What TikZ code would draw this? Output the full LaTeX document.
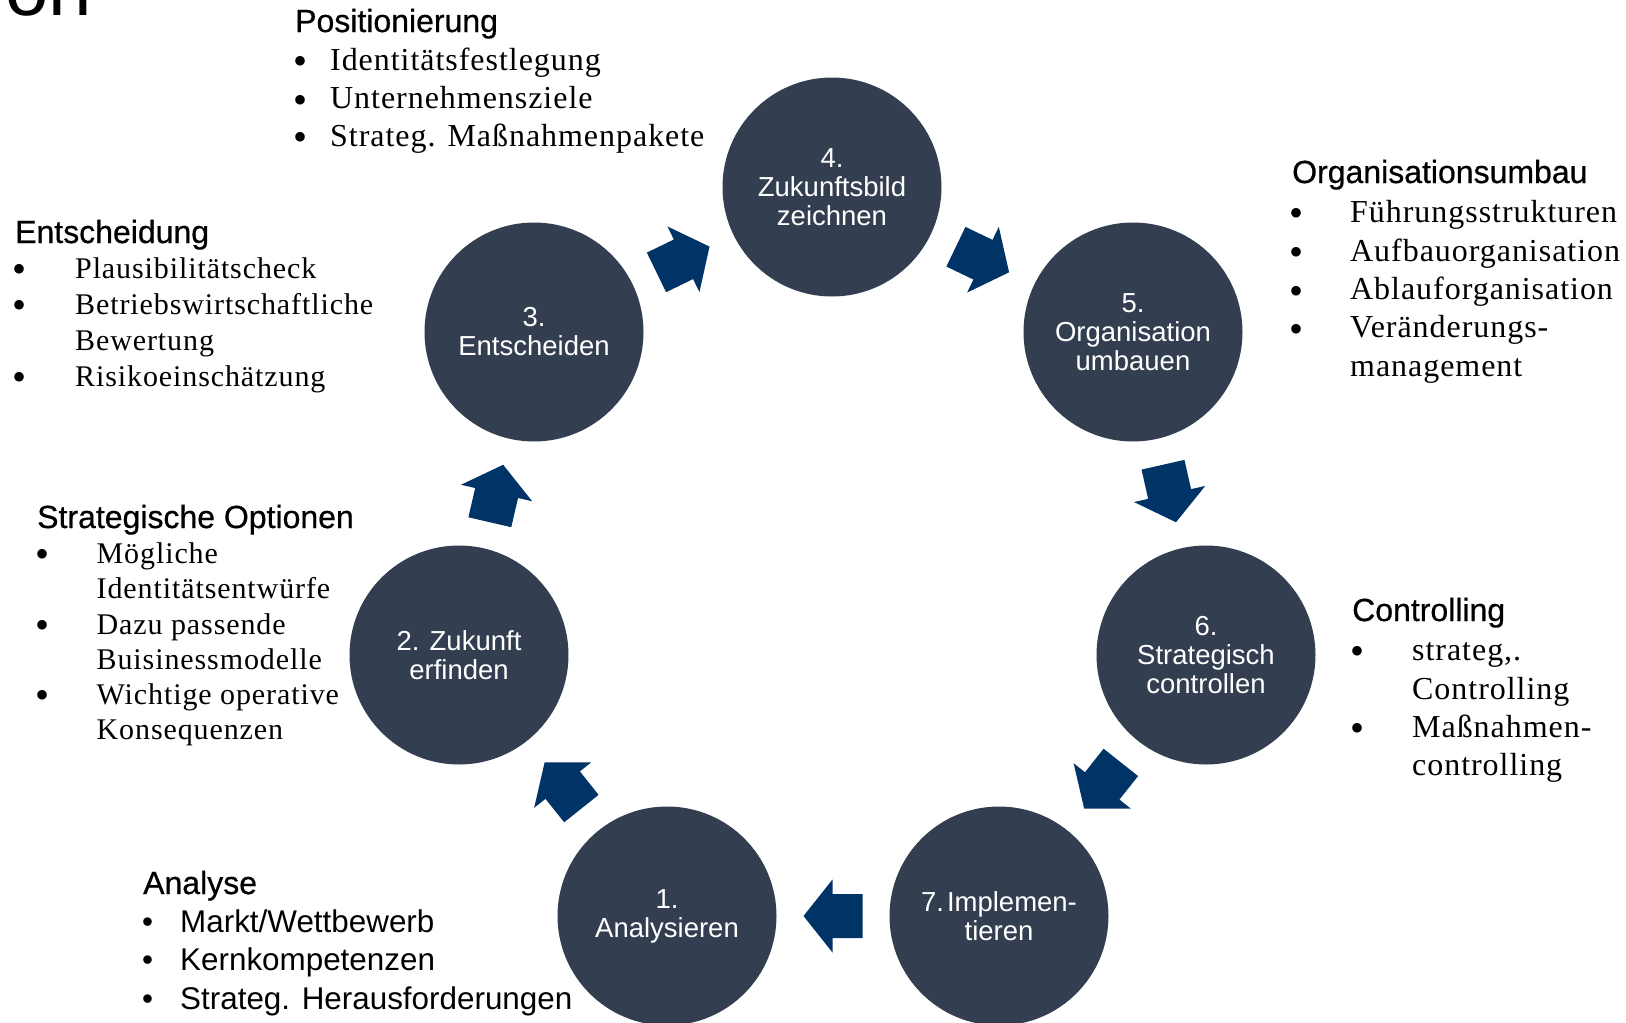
\documentclass[tikz,border=0pt]{standalone}
\usepackage{fontspec}
\setmainfont{Liberation Serif}
\newfontfamily\sansf{Liberation Sans}
\newfontfamily\sansh[FakeBold=0.6]{Liberation Sans}
\newfontfamily\serifls[LetterSpace=3]{Liberation Serif}
\usetikzlibrary{calc}
\definecolor{circfill}{RGB}{51,63,80}
\definecolor{arrfill}{RGB}{0,51,102}
\tikzset{
  stage/.style={circle, fill=circfill, minimum size=219pt, inner sep=0pt, align=center,
    text=white, font=\sansf\fontsize{27.5}{29}\selectfont},
  headline/.style={anchor=base west, inner sep=0pt, font=\sansh\fontsize{32}{36}\selectfont},
  sitem/.style={anchor=base west, inner sep=0pt, font=\sansf\fontsize{31.4}{36}\selectfont},
  sbul/.style={anchor=base, inner sep=0pt, font=\sansf\fontsize{31.4}{36}\selectfont},
  ritem/.style={anchor=base west, inner sep=0pt, font=\serifls\fontsize{32}{37}\selectfont},
  ritemsm/.style={ritem, font=\serifls\fontsize{30}{35}\selectfont},
  rbul/.style={anchor=center, inner sep=0pt, font=\rmfamily\fontsize{40}{40}\selectfont},
  flow/.style={fill=arrfill},
}
% serif bullet line: name, bullet x, text x, baseline y, text
\newcommand\rli[5]{\node[rbul] (#1b) at (#2,#4-4.5) {•}; \node[ritem] (#1) at (#3,#4) {#5};}
\newcommand\rcontt[4]{\node[ritem] (#1) at (#2,#3) {#4};}
\newcommand\rlis[5]{\node[rbul] (#1b) at (#2,#4-4.5) {•}; \node[ritemsm] (#1) at (#3,#4) {#5};}
\newcommand\rconts[4]{\node[ritemsm] (#1) at (#2,#3) {#4};}
\newcommand\sli[5]{\node[sbul] (#1b) at (#2,#4) {•}; \node[sitem] (#1) at (#3,#4) {#5};}
\newcommand\flowarrow[2]{%
  \coordinate (m-#1-#2) at ($(#1)!0.5!(#2)$);
  \coordinate (h-#1-#2) at ($(m-#1-#2)!0.5pt!(#2)$);
  \coordinate (t-#1-#2) at ($(m-#1-#2)!29.5pt!(#1)$);
  \fill[flow] ($(m-#1-#2)!29.5pt!(#2)$)
    -- ($(h-#1-#2)!36.5pt!90:(#2)$)
    -- ($(h-#1-#2)!22pt!90:(#2)$)
    -- ($(t-#1-#2)!22pt!90:(#2)$)
    -- ($(t-#1-#2)!22pt!-90:(#2)$)
    -- ($(h-#1-#2)!22pt!-90:(#2)$)
    -- ($(h-#1-#2)!36.5pt!-90:(#2)$)
    -- cycle;}
\begin{document}
\begin{tikzpicture}[x=1pt,y=-1pt]
\useasboundingbox (0,0) rectangle (1626,1023);
% partial title
\node[anchor=base east, inner sep=0pt, font=\sansf\fontsize{78}{80}\selectfont] (title) at (92,15) {on};

% stages
\node[stage] (c4) at (832,187) {4.\\Zukunftsbild\\zeichnen};
\node[stage] (c3) at (534,332) {3.\\Entscheiden};
\node[stage] (c5) at (1133,332) {5.\\Organisation\\umbauen};
\node[stage] (c2) at (459,655) {2. Zukunft\\erfinden};
\node[stage] (c6) at (1206,655) {6.\\Strategisch\\controllen};
\node[stage] (c1) at (667,916) {1.\\Analysieren};
\node[stage] (c7) at (999,916) {7.\hspace{3pt}Implemen-\\tieren};

% arrows
\flowarrow{c1}{c2}
\flowarrow{c2}{c3}
\flowarrow{c3}{c4}
\flowarrow{c4}{c5}
\flowarrow{c5}{c6}
\flowarrow{c6}{c7}
\flowarrow{c7}{c1}

% Positionierung
\node[headline] (hpos) at (295,32) {Positionierung};
\rli{pos1}{300}{330}{70}{Identitätsfestlegung}
\rli{pos2}{300}{330}{108.5}{Unternehmensziele}
\rli{pos3}{300}{330}{146}{Strateg. Maßnahmenpakete}

% Entscheidung
\node[headline] (hent) at (15,243) {Entscheidung};
\rlis{ent1}{20}{75}{278}{Plausibilitätscheck}
\rlis{ent2}{20}{75}{314}{Betriebswirtschaftliche}
\rconts{ent2c}{75}{350}{Bewertung}
\rlis{ent3}{20}{75}{386}{Risikoeinschätzung}

% Strategische Optionen
\node[headline] (hopt) at (37,528) {Strategische Optionen};
\rlis{opt1}{42.5}{96.5}{563}{Mögliche}
\rconts{opt1c}{96.5}{598}{Identitätsentwürfe}
\rlis{opt2}{42.5}{96.5}{634}{Dazu passende}
\rconts{opt2c}{96.5}{669}{Buisinessmodelle}
\rlis{opt3}{42.5}{96.5}{704}{Wichtige operative}
\rconts{opt3c}{96.5}{739}{Konsequenzen}

% Organisationsumbau
\node[headline] (horg) at (1292,183) {Organisationsumbau};
\rli{org1}{1296}{1350}{222}{Führungsstrukturen}
\rli{org2}{1296}{1350}{261}{Aufbauorganisation}
\rli{org3}{1296}{1350}{299.5}{Ablauforganisation}
\rli{org4}{1296}{1350}{337.5}{Veränderungs-}
\rcontt{org4c}{1350}{376}{management}

% Controlling
\node[headline] (hcon) at (1352,621) {Controlling};
\rli{con1}{1357}{1412}{660}{strateg,.}
\rcontt{con1c}{1412}{699}{Controlling}
\rli{con2}{1357}{1412}{737}{Maßnahmen-}
\rcontt{con2c}{1412}{775}{controlling}

% Analyse
\node[headline] (hana) at (143,894) {Analyse};
\sli{ana1}{147.5}{180}{932}{Markt/Wettbewerb}
\sli{ana2}{147.5}{180}{970}{Kernkompetenzen}
\sli{ana3}{147.5}{180}{1009}{Strateg. Herausforderungen}
\end{tikzpicture}
\end{document}
